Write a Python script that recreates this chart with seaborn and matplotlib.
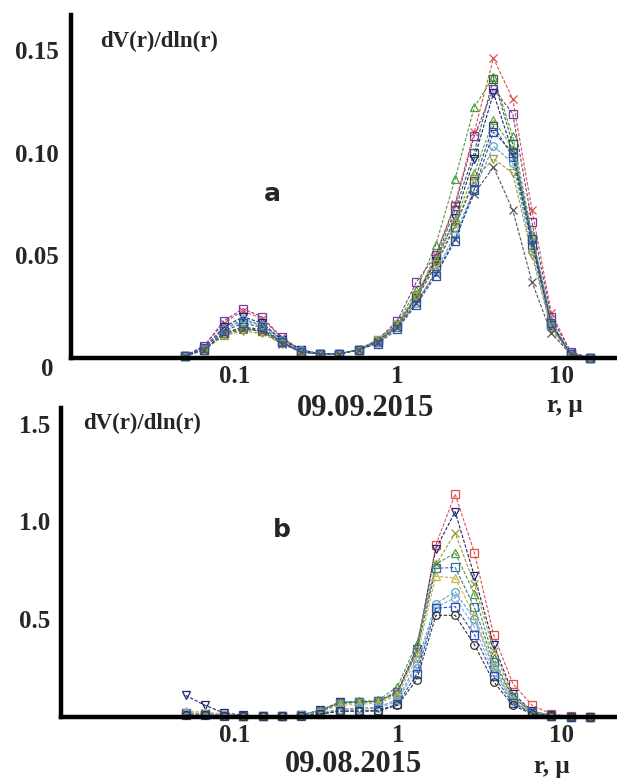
import matplotlib
matplotlib.use('Agg')

import matplotlib.pyplot as plt
from matplotlib.ticker import NullLocator
import seaborn as sns
import pandas as pd

# size bins (um)
radius = [0.05, 0.0656, 0.0861, 0.1129, 0.1482, 0.1944, 0.2551, 0.3347, 0.4392, 0.5762, 0.7561,
          0.9920, 1.3016, 1.7078, 2.2407, 2.9400, 3.8575, 5.0613, 6.6407, 8.7131, 11.4323, 15.0]

# panel a, 09.09.2015
a_red = [0.001, 0.006, 0.017, 0.023, 0.019, 0.010, 0.004, 0.002, 0.002, 0.004, 0.008, 0.016, 0.030, 0.050, 0.075, 0.110, 0.146, 0.126, 0.072, 0.022, 0.003, 0.000]
a_green = [0.001, 0.005, 0.014, 0.018, 0.016, 0.009, 0.004, 0.002, 0.002, 0.004, 0.009, 0.017, 0.033, 0.055, 0.087, 0.122, 0.137, 0.108, 0.060, 0.017, 0.002, 0.000]
a_dkgreen = [0.001, 0.004, 0.012, 0.015, 0.013, 0.008, 0.003, 0.002, 0.002, 0.004, 0.008, 0.016, 0.030, 0.048, 0.072, 0.100, 0.136, 0.104, 0.058, 0.016, 0.002, 0.000]
a_purple = [0.001, 0.006, 0.018, 0.024, 0.020, 0.010, 0.004, 0.002, 0.002, 0.004, 0.009, 0.018, 0.037, 0.050, 0.074, 0.108, 0.131, 0.119, 0.066, 0.020, 0.003, 0.000]
a_navy = [0.001, 0.005, 0.015, 0.020, 0.017, 0.009, 0.004, 0.002, 0.002, 0.004, 0.008, 0.016, 0.030, 0.047, 0.068, 0.097, 0.129, 0.100, 0.056, 0.016, 0.002, 0.000]
a_ltgreen = [0.001, 0.004, 0.011, 0.014, 0.013, 0.008, 0.003, 0.002, 0.002, 0.004, 0.008, 0.016, 0.031, 0.048, 0.067, 0.090, 0.116, 0.102, 0.060, 0.018, 0.002, 0.000]
a_slate = [0.001, 0.004, 0.012, 0.015, 0.014, 0.008, 0.003, 0.002, 0.002, 0.004, 0.008, 0.015, 0.029, 0.045, 0.064, 0.086, 0.113, 0.098, 0.055, 0.016, 0.002, 0.000]
a_cyan = [0.001, 0.005, 0.014, 0.019, 0.016, 0.009, 0.004, 0.002, 0.002, 0.004, 0.008, 0.015, 0.027, 0.042, 0.060, 0.082, 0.103, 0.095, 0.052, 0.015, 0.002, 0.000]
a_olive = [0.001, 0.004, 0.011, 0.013, 0.012, 0.007, 0.003, 0.002, 0.002, 0.004, 0.009, 0.016, 0.030, 0.046, 0.065, 0.087, 0.097, 0.090, 0.050, 0.014, 0.002, 0.000]
a_gray = [0.001, 0.004, 0.012, 0.014, 0.013, 0.007, 0.003, 0.002, 0.002, 0.004, 0.008, 0.015, 0.027, 0.041, 0.058, 0.080, 0.093, 0.072, 0.037, 0.012, 0.002, 0.000]
a_blue = [0.001, 0.005, 0.013, 0.017, 0.015, 0.008, 0.003, 0.002, 0.002, 0.004, 0.007, 0.014, 0.026, 0.040, 0.057, 0.082, 0.110, 0.100, 0.058, 0.017, 0.002, 0.000]

# panel b, 09.08.2015
b_red = [0.02, 0.015, 0.010, 0.005, 0.003, 0.003, 0.008, 0.030, 0.075, 0.077, 0.080, 0.120, 0.330, 0.880, 1.140, 0.840, 0.420, 0.170, 0.060, 0.015, 0.003, 0.0]
b_navy = [0.11, 0.060, 0.020, 0.010, 0.003, 0.003, 0.010, 0.035, 0.075, 0.077, 0.080, 0.130, 0.350, 0.860, 1.050, 0.720, 0.370, 0.120, 0.030, 0.008, 0.002, 0.0]
b_olive = [0.02, 0.020, 0.012, 0.006, 0.003, 0.003, 0.008, 0.030, 0.070, 0.075, 0.080, 0.120, 0.340, 0.780, 0.940, 0.680, 0.340, 0.110, 0.030, 0.008, 0.002, 0.0]
b_green = [0.02, 0.015, 0.010, 0.005, 0.003, 0.003, 0.010, 0.035, 0.077, 0.080, 0.085, 0.155, 0.375, 0.780, 0.840, 0.630, 0.300, 0.100, 0.025, 0.007, 0.002, 0.0]
b_steel = [0.02, 0.015, 0.010, 0.005, 0.003, 0.003, 0.010, 0.030, 0.070, 0.075, 0.080, 0.130, 0.330, 0.760, 0.765, 0.560, 0.280, 0.100, 0.025, 0.007, 0.002, 0.0]
b_gold = [0.03, 0.025, 0.015, 0.006, 0.003, 0.003, 0.008, 0.025, 0.060, 0.065, 0.070, 0.110, 0.300, 0.720, 0.710, 0.520, 0.260, 0.090, 0.025, 0.007, 0.002, 0.0]
b_cyan = [0.02, 0.015, 0.010, 0.005, 0.003, 0.003, 0.008, 0.020, 0.040, 0.045, 0.050, 0.090, 0.270, 0.580, 0.640, 0.500, 0.250, 0.080, 0.020, 0.006, 0.002, 0.0]
b_ltblue = [0.02, 0.015, 0.010, 0.005, 0.003, 0.003, 0.008, 0.020, 0.035, 0.040, 0.045, 0.080, 0.250, 0.560, 0.610, 0.460, 0.230, 0.080, 0.020, 0.006, 0.002, 0.0]
b_blue = [0.01, 0.008, 0.006, 0.004, 0.003, 0.003, 0.006, 0.015, 0.030, 0.030, 0.035, 0.065, 0.220, 0.555, 0.565, 0.420, 0.210, 0.070, 0.020, 0.005, 0.002, 0.0]
b_black = [0.01, 0.008, 0.006, 0.004, 0.003, 0.003, 0.005, 0.015, 0.030, 0.030, 0.030, 0.060, 0.190, 0.520, 0.520, 0.370, 0.180, 0.060, 0.015, 0.004, 0.001, 0.0]

series_a = {'red': a_red, 'green': a_green, 'dkgreen': a_dkgreen, 'purple': a_purple,
            'navy': a_navy, 'ltgreen': a_ltgreen, 'slate': a_slate, 'cyan': a_cyan,
            'olive': a_olive, 'gray': a_gray, 'blue': a_blue}
series_b = {'red': b_red, 'navy': b_navy, 'olive': b_olive, 'green': b_green,
            'steel': b_steel, 'gold': b_gold, 'cyan': b_cyan, 'ltblue': b_ltblue,
            'blue': b_blue, 'black': b_black}

colors = {'red': '#e0504a', 'green': '#4f9a3c', 'dkgreen': '#2f6b3a', 'purple': '#7a3c98',
          'navy': '#1d2275', 'ltgreen': '#6aa84f', 'slate': '#3b4a5a', 'cyan': '#5aa6c8',
          'olive': '#a09a3a', 'gray': '#555555', 'blue': '#2c4fb0', 'steel': '#3d6f9e',
          'gold': '#c8b43c', 'ltblue': '#7fa8d8', 'black': '#333333'}
markers = {'red': 'x', 'green': '^', 'dkgreen': 's', 'purple': 's', 'navy': 'v',
           'ltgreen': '^', 'slate': 's', 'cyan': 'o', 'olive': 'v', 'gray': 'x',
           'blue': 's', 'steel': 's', 'gold': '^', 'ltblue': 'o', 'black': 'o'}
markers_b = dict(markers, red='s', olive='x')


def px(x, y):
    return x / 617, 1 - y / 780


sns.set_style('white')
plt.rcParams['font.family'] = ['Liberation Serif', 'DejaVu Serif']
plt.rcParams['font.weight'] = 'bold'

fig = plt.figure(figsize=(6.17, 7.80), dpi=100)
ax_a = fig.add_axes([71 / 617, 1 - 358 / 780, 546 / 617, 343 / 780])
ax_b = fig.add_axes([61 / 617, 1 - 717 / 780, 556 / 617, 309 / 780])


def draw(ax, series, mk, ymax, xmin):
    for name, vals in series.items():
        df = pd.DataFrame({'r': radius, 'dv': vals})
        sns.lineplot(data=df, x='r', y='dv', color=colors[name], marker=mk[name],
                     markersize=5.5, markerfacecolor='none', markeredgecolor=colors[name],
                     markeredgewidth=0.9, lw=0.8, linestyle=(0, (3, 1.5)),
                     estimator=None, sort=False, ax=ax, clip_on=False)
    ax.set_xscale('log')
    ax.set_xlim(xmin, 22)
    ax.set_ylim(0, ymax)
    ax.set_xticks([0.1, 1, 10], labels=['0.1', '1', '10'])
    ax.xaxis.set_minor_locator(NullLocator())
    ax.set_xlabel('')
    ax.set_ylabel('')
    sns.despine(ax=ax)
    for s in ['left', 'bottom']:
        ax.spines[s].set_linewidth(3.2)
        ax.spines[s].set_color('black')
        ax.spines[s].set_zorder(5)
    ax.tick_params(axis='x', direction='in', length=5, width=0.8, color='#999999',
                   labelsize=18, pad=5)
    ax.tick_params(axis='y', length=0, labelsize=18)


draw(ax_a, series_a, markers, 0.167, 0.01)
ax_a.set_yticks([0.05, 0.10, 0.15], labels=['0.05', '0.10', '0.15'])
ax_a.tick_params(axis='y', pad=9)

draw(ax_b, series_b, markers_b, 1.58, 0.0086)
ax_b.set_yticks([0.5, 1.0, 1.5], labels=['0.5', '1.0', '1.5'])
ax_b.tick_params(axis='y', pad=8)

for ax in [ax_a, ax_b]:
    for lab in ax.get_xticklabels() + ax.get_yticklabels():
        lab.set_fontweight('bold')

bold = dict(fontweight='bold')
fig.text(*px(47, 370), '0', fontsize=18, ha='center', va='center', **bold)
fig.text(*px(100, 41), 'dV(r)/dln(r)', fontsize=16.5, ha='left', va='center', **bold)
fig.text(*px(272, 194), 'a', fontsize=18, ha='center', va='center',
         family='DejaVu Sans', **bold)
fig.text(*px(366, 409), '09.09.2015', fontsize=22, ha='center', va='center', **bold)
fig.text(*px(565, 405), 'r, μ', fontsize=18, ha='center', va='center', **bold)

fig.text(*px(83, 423), 'dV(r)/dln(r)', fontsize=16.5, ha='left', va='center', **bold)
fig.text(*px(282, 530), 'b', fontsize=18, ha='center', va='center',
         family='DejaVu Sans', **bold)
fig.text(*px(354, 765), '09.08.2015', fontsize=22, ha='center', va='center', **bold)
fig.text(*px(552, 767), 'r, μ', fontsize=18, ha='center', va='center', **bold)

plt.savefig('out.png', dpi=100)
